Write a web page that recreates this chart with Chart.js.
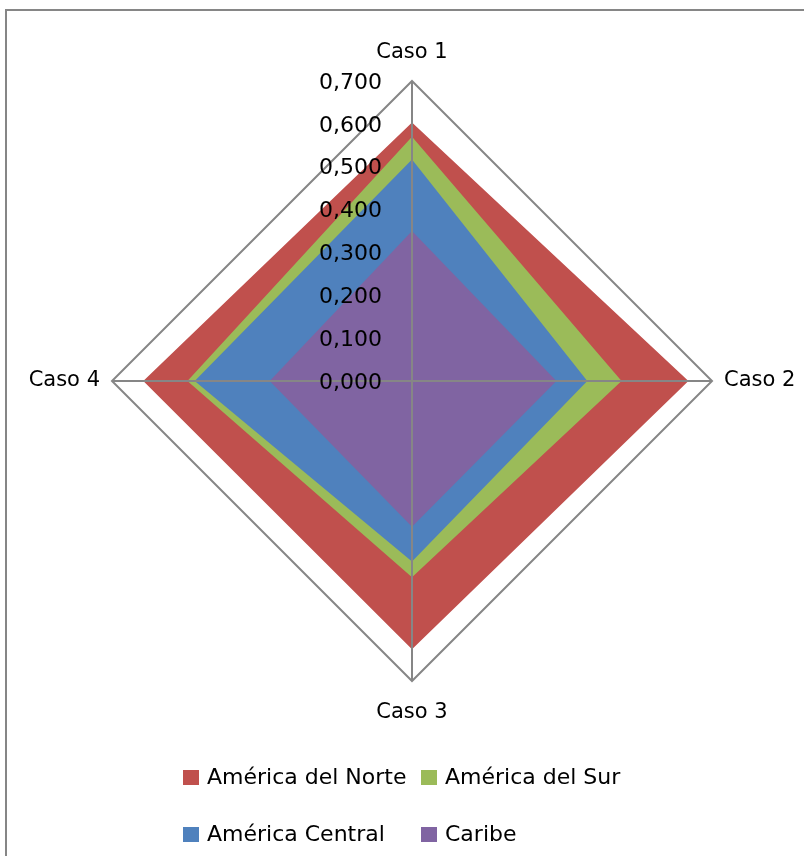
<!DOCTYPE html>
<html>
<head>
<meta charset="utf-8">
<script src="https://cdn.jsdelivr.net/npm/chart.js@4.4.1/dist/chart.umd.min.js"></script>
<style>
  html, body { margin: 0; padding: 0; background: #ffffff; width: 804px; height: 856px; overflow: hidden; }
  #frame { position: absolute; left: 5px; top: 9px; width: 900px; height: 900px; border: 2px solid #868686; box-sizing: border-box; }
  #c { position: absolute; left: 0; top: 0; }
  .lg { position: absolute; display: flex; align-items: center; height: 26px; font-family: 'DejaVu Sans', sans-serif; font-size: 22px; line-height: 26px; color: #000; white-space: nowrap; }
  .lg .sw { width: 16px; height: 15px; margin-right: 8px; flex: none; }
</style>
</head>
<body>
<div id="frame"></div>
<canvas id="c" width="804" height="856"></canvas>
<div id="legend"></div>
<script>
// ---- data ----
const categories = ['Caso 1', 'Caso 2', 'Caso 3', 'Caso 4'];
const seriesNames = ['América del Norte', 'América del Sur', 'América Central', 'Caribe'];
const americaDelNorte = [0.603, 0.645, 0.626, 0.627];
const americaDelSur   = [0.570, 0.489, 0.458, 0.524];
const americaCentral  = [0.517, 0.409, 0.421, 0.507];
const caribe          = [0.350, 0.337, 0.340, 0.332];
const tickValues = [0, 0.1, 0.2, 0.3, 0.4, 0.5, 0.6, 0.7];
const tickLabels = ['0,000', '0,100', '0,200', '0,300', '0,400', '0,500', '0,600', '0,700'];

// ---- styles ----
const seriesColors = ['#C0504D', '#9BBB59', '#4F81BD', '#8064A2'];
const seriesValues = [americaDelNorte, americaDelSur, americaCentral, caribe];

const tickLabelPlugin = {
  id: 'tickLabelPlugin',
  afterDraw(chart) {
    const s = chart.scales.r;
    const ctx = chart.ctx;
    ctx.save();
    ctx.font = '22px "DejaVu Sans"';
    ctx.fillStyle = '#000000';
    ctx.textAlign = 'right';
    ctx.textBaseline = 'middle';
    tickValues.forEach((v, i) => {
      const y = s.yCenter - s.getDistanceFromCenterForValue(v);
      ctx.fillText(tickLabels[i], s.xCenter - 30, y + 2);
    });
    ctx.restore();
  }
};

const chart = new Chart(document.getElementById('c'), {
  type: 'radar',
  data: {
    labels: categories,
    datasets: seriesNames.map((name, i) => ({
      label: name,
      data: seriesValues[i],
      backgroundColor: seriesColors[i],
      borderColor: seriesColors[i],
      borderWidth: 0,
      fill: 'origin',
      order: 4 - i,
      pointRadius: 0,
      pointHoverRadius: 0
    }))
  },
  options: {
    responsive: false,
    animation: false,
    events: [],
    layout: { padding: { left: 20, right: 0, top: 34, bottom: 123 } },
    elements: { line: { tension: 0 } },
    plugins: { legend: { display: false }, tooltip: { enabled: false } },
    scales: {
      r: {
        min: 0,
        max: 0.7,
        ticks: { display: false, stepSize: 0.1 },
        grid: {
          z: 1,
          lineWidth: 2,
          color: (c) => (c.tick && c.tick.value >= 0.699 ? '#868686' : 'rgba(0,0,0,0)')
        },
        angleLines: { display: true, color: '#868686', lineWidth: 2 },
        pointLabels: {
          color: '#000000',
          padding: (c) => [10, 12, 14, 12][c.index],
          font: { family: 'DejaVu Sans', size: 21, lineHeight: 1.714 }
        }
      }
    }
  },
  plugins: [tickLabelPlugin]
});

// ---- legend (HTML, built from the series) ----
const legendPos = [[183, 764], [421, 764], [183, 821], [421, 821]];
const legend = document.getElementById('legend');
seriesNames.forEach((name, i) => {
  const d = document.createElement('div');
  d.className = 'lg';
  d.style.left = legendPos[i][0] + 'px';
  d.style.top = legendPos[i][1] + 'px';
  const sw = document.createElement('span');
  sw.className = 'sw';
  sw.style.background = seriesColors[i];
  const t = document.createElement('span');
  t.textContent = name;
  d.appendChild(sw);
  d.appendChild(t);
  legend.appendChild(d);
});
</script>
</body>
</html>
